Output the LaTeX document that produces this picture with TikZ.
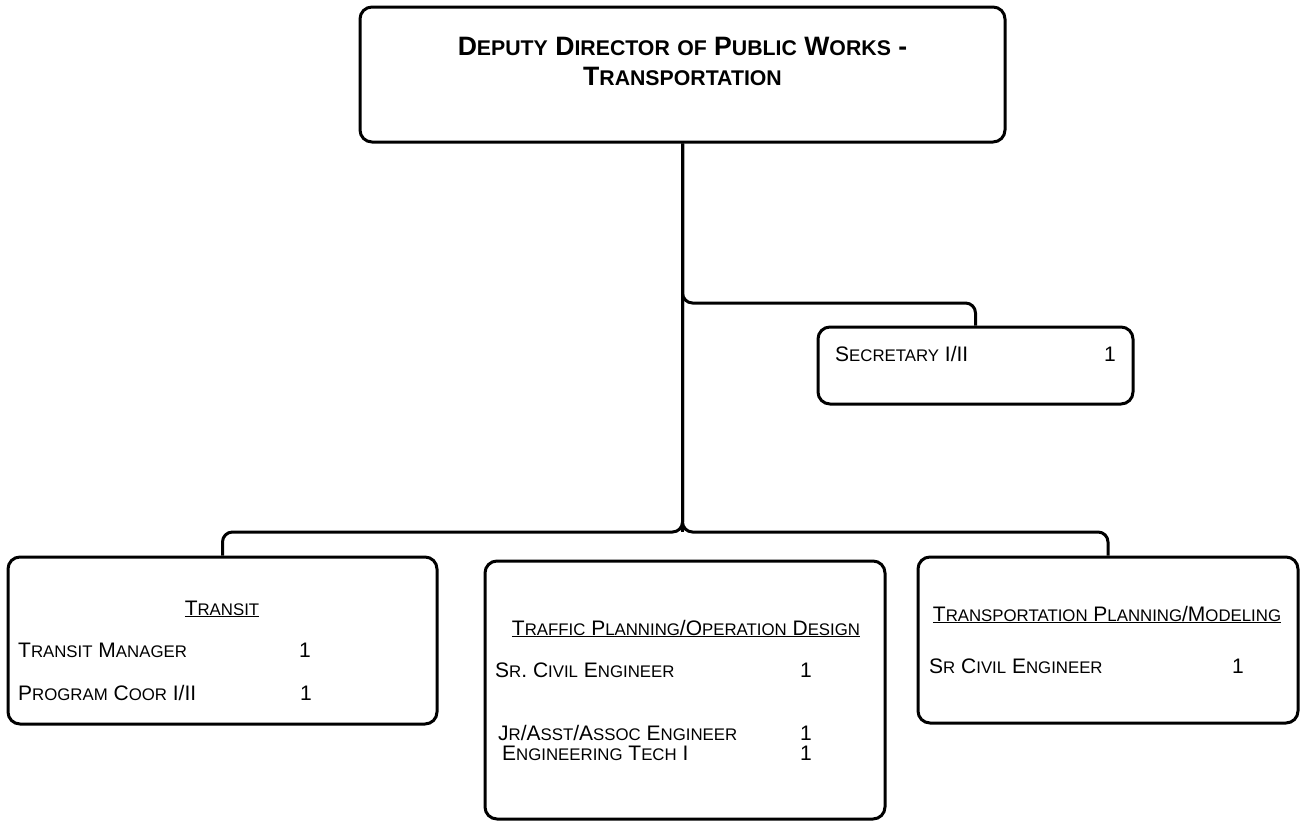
\documentclass[tikz,border=0pt]{standalone}
\usepackage{fontspec}
\setmainfont{Liberation Sans}
\makeatletter
\newcommand\smc[1]{{\fontsize{\the\dimexpr0.8\dimexpr\f@size pt\relax\relax}{\f@baselineskip}\selectfont\MakeUppercase{#1}}}
\makeatother
\tikzset{
  box/.style={draw, line width=3pt, rounded corners=12pt, inner sep=0pt},
  link/.style={line width=3pt, rounded corners=10pt},
  lbl/.style={inner sep=0pt, anchor=base west, font=\fontsize{21}{25}\selectfont},
  hd/.style={inner sep=0pt, anchor=base, font=\fontsize{21}{25}\selectfont},
  num/.style={inner sep=0pt, anchor=base, font=\fontsize{21}{25}\selectfont}
}
\begin{document}
\begin{tikzpicture}[x=1pt,y=-1pt]
    \useasboundingbox (0,0) rectangle (1304,822);

    % boxes
    \node[box, minimum width=645pt, minimum height=135pt] (dir) at (682.5,74.5) {};
    \node[box, minimum width=315pt, minimum height=77pt] (sec) at (975.5,365.5) {};
    \node[box, minimum width=429pt, minimum height=167pt] (transit) at (222.5,640.5) {};
    \node[box, minimum width=400pt, minimum height=258pt] (traffic) at (685,690) {};
    \node[box, minimum width=380pt, minimum height=166pt] (plan) at (1108,640) {};

    % connectors
    \coordinate (branch) at (682.5,303);
    \coordinate (bus) at (682.5,532);
    \draw[link] (dir.south) -- (bus);
    \draw[link] (dir.south) -- (branch) -- (sec.north |- branch) -- (sec.north);
    \draw[link] (dir.south) -- (bus) -- (transit.north |- bus) -- (transit.north);
    \draw[link] (dir.south) -- (bus) -- (plan.north |- bus) -- (plan.north);

    % title
    \node[inner sep=0pt, anchor=base, align=center, font=\fontsize{26.6}{30}\selectfont\bfseries] (title) at (682.5,85)
      {D\smc{eputy} D\smc{irector} \smc{of} P\smc{ublic} W\smc{orks} -\\T\smc{ransportation}};

    % secretary
    \node[lbl] (secname) at (835,361) {S\smc{ecretary} I/II};
    \node[num] (secnum) at (1110,361) {1};

    % transit
    \node[hd] (transithd) at (222,615) {\underline{T\smc{ransit}}};
    \node[lbl] (mgr) at (18,657) {T\smc{ransit} M\smc{anager}};
    \node[num] (mgrnum) at (305,657) {1};
    \node[lbl] (coor) at (18,700) {P\smc{rogram} C\smc{oor} I/II};
    \node[num] (coornum) at (306,700) {1};

    % traffic planning
    \node[hd] (traffichd) at (686,635) {\underline{T\smc{raffic} P\smc{lanning}/O\smc{peration} D\smc{esign}}};
    \node[lbl] (srce) at (495,677) {S\smc{r}. C\smc{ivil} E\smc{ngineer}};
    \node[num] (srcenum) at (806,677) {1};
    \node[lbl] (jr) at (498,740) {J\smc{r}/A\smc{sst}/A\smc{ssoc} E\smc{ngineer}};
    \node[num] (jrnum) at (806,740) {1};
    \node[lbl] (tech) at (502,760) {E\smc{ngineering} T\smc{ech} I};
    \node[num] (technum) at (806,760) {1};

    % transportation planning
    \node[hd] (planhd) at (1107,621) {\underline{T\smc{ransportation} P\smc{lanning}/M\smc{odeling}}};
    \node[lbl] (srce2) at (929,673) {S\smc{r} C\smc{ivil} E\smc{ngineer}};
    \node[num] (srce2num) at (1238,673) {1};
\end{tikzpicture}
\end{document}
